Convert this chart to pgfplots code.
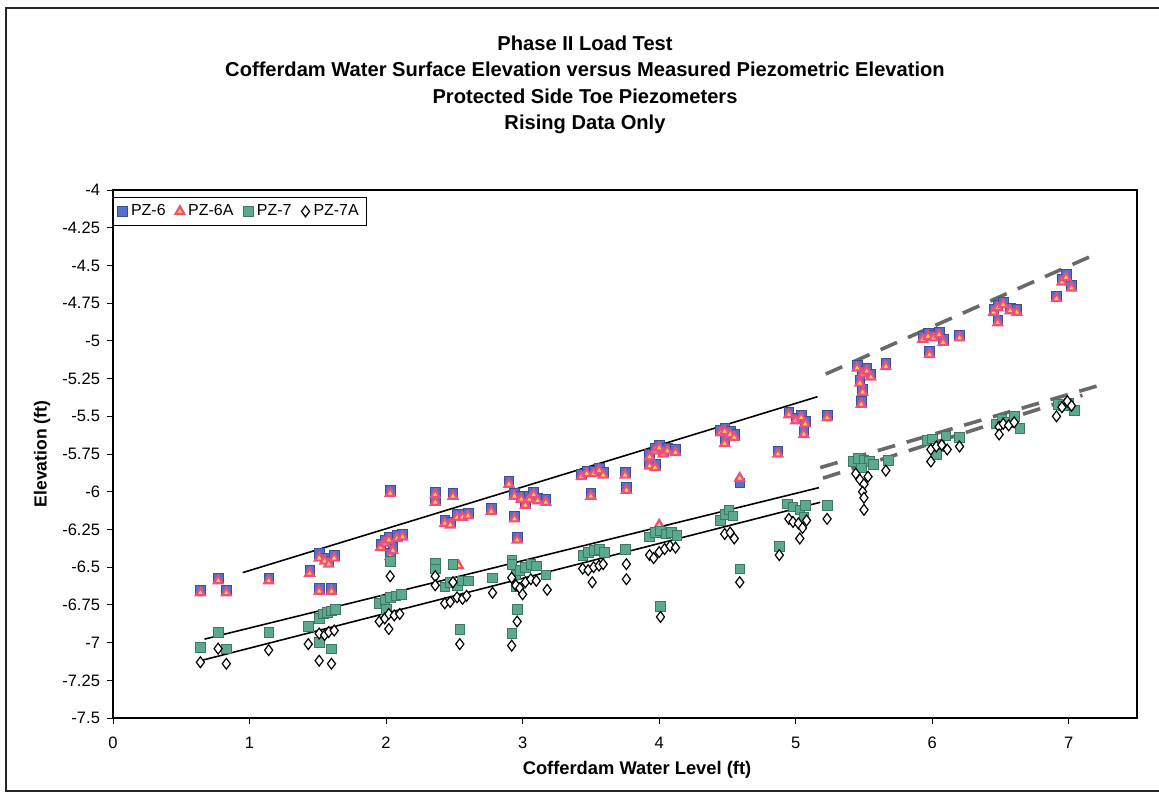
\documentclass[border=0pt]{standalone}
\usepackage{pgfplots}
\pgfplotsset{compat=1.18}
\usepackage{fontspec}
\setmainfont{Liberation Sans}

\definecolor{pzblue}{RGB}{88,112,205}
\definecolor{pzpink}{RGB}{238,78,128}
\definecolor{pzyellow}{RGB}{250,212,70}
\definecolor{pzteal}{RGB}{92,170,142}
\definecolor{pztealdark}{RGB}{60,120,100}
\definecolor{trendgray}{RGB}{105,105,105}

\begin{document}
\begin{tikzpicture}[x=1bp,y=1bp]
\useasboundingbox (0,0) rectangle (579.5,-396.5);
% chart frame (its right edge falls outside the page)
\draw[line width=0.7pt, black!85] (3,-4) rectangle (590,-395.5);

% chart title
\begin{scope}[every node/.style={font=\fontsize{10.1}{12}\selectfont\bfseries, inner sep=0pt}]
\node at (292.5,-21.5) {Phase II Load Test};
\node at (292.5,-34.8) {Cofferdam Water Surface Elevation versus Measured Piezometric Elevation};
\node at (292.5,-48.3) {Protected Side Toe Piezometers};
\node at (292.5,-62) {Rising Data Only};
\end{scope}

% axis titles
\node[font=\fontsize{9.2}{11}\selectfont\bfseries, inner sep=0pt] at (318.5,-385) {Cofferdam Water Level (ft)};
\node[font=\fontsize{8.8}{11}\selectfont\bfseries, inner sep=0pt, rotate=90] at (21,-227) {Elevation (ft)};

\begin{axis}[
  at={(56.5bp,-95bp)}, anchor=north west,
  scale only axis, width=512bp, height=264bp,
  xmin=0, xmax=7.5, ymin=-7.5, ymax=-4,
  xtick={0,1,2,3,4,5,6,7},
  xticklabels={0,1,2,3,4,5,6,7},
  ytick={-7.5,-7.25,-7,-6.75,-6.5,-6.25,-6,-5.75,-5.5,-5.25,-5,-4.75,-4.5,-4.25,-4},
  yticklabels={-7.5,-7.25,-7,-6.75,-6.5,-6.25,-6,-5.75,-5.5,-5.25,-5,-4.75,-4.5,-4.25,-4},
  tick align=outside, tick pos=left,
  major tick length=3bp,
  tick style={black, line width=0.5pt},
  ticklabel style={font=\fontsize{8.3}{10}\selectfont},
  xticklabel style={yshift=-3pt},
  axis line style={black, line width=0.6pt},
  clip=false,
  legend style={at={(0,0.987)}, anchor=north west, draw=black, line width=0.5pt,
    font=\fontsize{8}{10}\selectfont, inner xsep=2pt, inner ysep=1.5pt,
    /tikz/every even column/.append style={column sep=3pt}},
  legend columns=4,
]

% PZ-6
\addplot[only marks, mark=square*, mark size=2.4bp, mark options={fill=pzblue, draw=pzblue!70!black, line width=0.3pt}]
coordinates {
(0.64,-6.65) (0.77,-6.57) (0.83,-6.65) (1.14,-6.57) (1.44,-6.52)
(1.51,-6.41) (1.55,-6.44) (1.58,-6.46) (1.62,-6.42) (1.51,-6.64) (1.60,-6.64)
(1.96,-6.35) (1.99,-6.32) (2.02,-6.30) (2.05,-6.37) (2.08,-6.29) (2.12,-6.28) (2.03,-6.41) (2.03,-5.99)
(2.36,-6.00) (2.36,-6.05) (2.49,-6.01) (2.43,-6.19) (2.47,-6.20) (2.52,-6.15) (2.56,-6.15) (2.60,-6.14)
(2.77,-6.11) (2.90,-5.93) (2.94,-6.01) (2.94,-6.16) (2.96,-6.30)
(2.99,-6.03) (3.02,-6.07) (3.05,-6.03) (3.08,-6.00) (3.11,-6.04) (3.17,-6.05)
(3.43,-5.88) (3.47,-5.86) (3.52,-5.86) (3.56,-5.84) (3.59,-5.87) (3.50,-6.01)
(3.75,-5.87) (3.76,-5.97)
(3.93,-5.75) (3.97,-5.71) (4.00,-5.69) (4.03,-5.73) (4.06,-5.71) (4.12,-5.72) (3.93,-5.81) (3.97,-5.82)
(4.45,-5.59) (4.48,-5.58) (4.52,-5.60) (4.55,-5.62) (4.48,-5.66) (4.59,-5.94)
(4.87,-5.73) (4.95,-5.47) (5.00,-5.51) (5.04,-5.49) (5.07,-5.53) (5.06,-5.60) (5.23,-5.49)
(5.45,-5.16) (5.49,-5.20) (5.52,-5.18) (5.55,-5.22) (5.47,-5.26) (5.49,-5.32) (5.48,-5.40) (5.66,-5.15)
(5.93,-4.97) (5.97,-4.95) (6.01,-4.96) (6.05,-4.94) (6.08,-4.99) (5.98,-5.07) (6.20,-4.96)
(6.45,-4.79) (6.48,-4.76) (6.52,-4.74) (6.57,-4.78) (6.62,-4.79) (6.48,-4.86)
(6.91,-4.70) (6.95,-4.59) (6.98,-4.56) (7.02,-4.63)
};
\addlegendentry{PZ-6}

% PZ-6A
\addplot[only marks, mark=triangle*, mark size=2.5bp, mark options={fill=pzyellow, draw=pzpink, line width=1.1pt}]
coordinates {
(0.64,-6.67) (0.77,-6.59) (0.83,-6.67) (1.14,-6.59) (1.44,-6.54)
(1.51,-6.44) (1.55,-6.46) (1.58,-6.48) (1.62,-6.44) (1.51,-6.66) (1.60,-6.66)
(1.96,-6.37) (1.99,-6.34) (2.02,-6.32) (2.05,-6.39) (2.08,-6.31) (2.12,-6.30) (2.03,-6.43) (2.03,-6.01)
(2.36,-6.02) (2.36,-6.07) (2.49,-6.03) (2.43,-6.21) (2.47,-6.22) (2.52,-6.17) (2.56,-6.17) (2.60,-6.16)
(2.53,-6.49)
(2.77,-6.13) (2.90,-5.95) (2.94,-6.03) (2.94,-6.18) (2.96,-6.32)
(2.99,-6.05) (3.02,-6.09) (3.05,-6.05) (3.08,-6.02) (3.11,-6.06) (3.17,-6.07)
(3.43,-5.90) (3.47,-5.88) (3.52,-5.88) (3.56,-5.86) (3.59,-5.89) (3.50,-6.03)
(3.75,-5.89) (3.76,-5.99)
(3.93,-5.77) (3.97,-5.73) (4.00,-5.71) (4.03,-5.75) (4.06,-5.73) (4.12,-5.74) (3.93,-5.83) (3.97,-5.84)
(4.00,-6.22)
(4.45,-5.61) (4.48,-5.60) (4.52,-5.62) (4.55,-5.64) (4.48,-5.68) (4.59,-5.91)
(4.87,-5.75) (4.95,-5.49) (5.00,-5.53) (5.04,-5.51) (5.07,-5.55) (5.06,-5.62) (5.23,-5.51)
(5.45,-5.18) (5.49,-5.22) (5.52,-5.20) (5.55,-5.24) (5.47,-5.28) (5.49,-5.34) (5.48,-5.42) (5.66,-5.17)
(5.93,-4.99) (5.97,-4.97) (6.01,-4.98) (6.05,-4.96) (6.08,-5.01) (5.98,-5.09) (6.20,-4.98)
(6.45,-4.81) (6.48,-4.78) (6.52,-4.76) (6.57,-4.80) (6.62,-4.81) (6.48,-4.88)
(6.91,-4.72) (6.95,-4.61) (6.98,-4.58) (7.02,-4.65)
};
\addlegendentry{PZ-6A}

% PZ-7
\addplot[only marks, mark=square*, mark size=2.4bp, mark options={fill=pzteal, draw=pztealdark, line width=0.3pt}]
coordinates {
(0.64,-7.03) (0.77,-6.93) (0.83,-7.04) (1.14,-6.93) (1.43,-6.89)
(1.51,-6.84) (1.54,-6.81) (1.57,-6.80) (1.60,-6.79) (1.63,-6.78) (1.51,-7.00) (1.60,-7.04)
(1.95,-6.74) (1.99,-6.72) (2.03,-6.70) (2.07,-6.69) (2.11,-6.68) (2.00,-6.78) (2.03,-6.46)
(2.36,-6.47) (2.36,-6.51) (2.49,-6.48) (2.43,-6.63) (2.47,-6.60) (2.52,-6.62) (2.56,-6.59) (2.60,-6.59) (2.54,-6.91)
(2.78,-6.57) (2.92,-6.45) (2.92,-6.48) (2.95,-6.55) (2.98,-6.52) (3.02,-6.50) (3.06,-6.48) (3.10,-6.49)
(2.95,-6.63) (3.17,-6.55) (2.96,-6.78) (2.92,-6.94)
(3.44,-6.42) (3.48,-6.40) (3.52,-6.39) (3.56,-6.38) (3.60,-6.40) (3.75,-6.38)
(3.93,-6.30) (3.97,-6.27) (4.01,-6.26) (4.05,-6.28) (4.09,-6.27) (4.13,-6.29) (4.01,-6.76)
(4.45,-6.19) (4.48,-6.15) (4.51,-6.12) (4.54,-6.16) (4.59,-6.51)
(4.88,-6.36) (4.94,-6.08) (4.98,-6.10) (5.03,-6.12) (5.07,-6.09) (5.06,-6.17) (5.23,-6.09)
(5.42,-5.80) (5.46,-5.78) (5.50,-5.79) (5.54,-5.80) (5.48,-5.84) (5.57,-5.82) (5.68,-5.79)
(5.96,-5.66) (6.00,-5.65) (6.05,-5.70) (6.10,-5.63) (6.20,-5.64) (6.03,-5.75)
(6.47,-5.55) (6.51,-5.52) (6.55,-5.54) (6.60,-5.50) (6.64,-5.58)
(6.92,-5.42) (6.96,-5.43) (7.00,-5.41) (7.04,-5.46)
};
\addlegendentry{PZ-7}

% PZ-7A
\addplot[only marks, mark=diamond*, mark size=2.7bp, mark options={fill=white, draw=black, line width=0.6pt}]
coordinates {
(0.64,-7.13) (0.77,-7.04) (0.83,-7.14) (1.14,-7.05) (1.43,-7.01)
(1.51,-6.94) (1.55,-6.95) (1.58,-6.93) (1.62,-6.92) (1.51,-7.12) (1.60,-7.14)
(1.95,-6.86) (1.99,-6.84) (2.02,-6.81) (2.06,-6.82) (2.10,-6.81) (2.02,-6.91) (2.03,-6.56)
(2.36,-6.56) (2.36,-6.62) (2.49,-6.60) (2.43,-6.74) (2.47,-6.73) (2.52,-6.70) (2.56,-6.71) (2.59,-6.69) (2.54,-7.01)
(2.78,-6.67) (2.92,-6.57) (2.95,-6.62) (2.98,-6.64) (3.02,-6.60) (3.06,-6.58) (3.10,-6.59)
(3.00,-6.68) (3.18,-6.65) (2.96,-6.86) (2.92,-7.02)
(3.44,-6.51) (3.48,-6.52) (3.52,-6.50) (3.56,-6.49) (3.59,-6.48) (3.51,-6.60) (3.76,-6.48) (3.76,-6.58)
(3.93,-6.42) (3.96,-6.44) (4.00,-6.40) (4.04,-6.38) (4.08,-6.36) (4.12,-6.37) (4.01,-6.83)
(4.48,-6.28) (4.52,-6.27) (4.55,-6.31) (4.59,-6.60)
(4.88,-6.42) (4.95,-6.18) (4.98,-6.20) (5.02,-6.21) (5.05,-6.24) (5.08,-6.19) (5.03,-6.31) (5.23,-6.18)
(5.44,-5.88) (5.47,-5.92) (5.50,-5.95) (5.53,-5.90) (5.49,-6.00) (5.50,-6.04) (5.50,-6.12) (5.66,-5.86)
(5.99,-5.72) (6.03,-5.70) (6.07,-5.69) (6.11,-5.72) (5.99,-5.80) (6.20,-5.70)
(6.49,-5.57) (6.52,-5.55) (6.56,-5.56) (6.60,-5.54) (6.49,-5.62)
(6.91,-5.50) (6.95,-5.44) (6.99,-5.40) (7.02,-5.43)
};
\addlegendentry{PZ-7A}

% linear trends, lower stage (solid)
\addplot[black, line width=0.8pt, forget plot] coordinates {(0.95,-6.536) (5.16,-5.370)};
\addplot[black, line width=0.8pt, forget plot] coordinates {(0.67,-6.977) (5.17,-5.973)};
\addplot[black, line width=0.8pt, forget plot] coordinates {(0.64,-7.120) (5.18,-6.070)};

% linear trends, upper stage (dashed)
\addplot[trendgray, line width=1.8pt, dash pattern=on 9bp off 6bp, forget plot] coordinates {(5.22,-5.220) (7.20,-4.424)};
\addplot[trendgray, line width=1.8pt, dash pattern=on 9bp off 6bp, forget plot] coordinates {(5.18,-5.840) (7.26,-5.285)};
\addplot[trendgray, line width=1.8pt, dash pattern=on 9bp off 6bp, forget plot] coordinates {(5.20,-5.910) (7.10,-5.360)};

\end{axis}
\end{tikzpicture}
\end{document}
